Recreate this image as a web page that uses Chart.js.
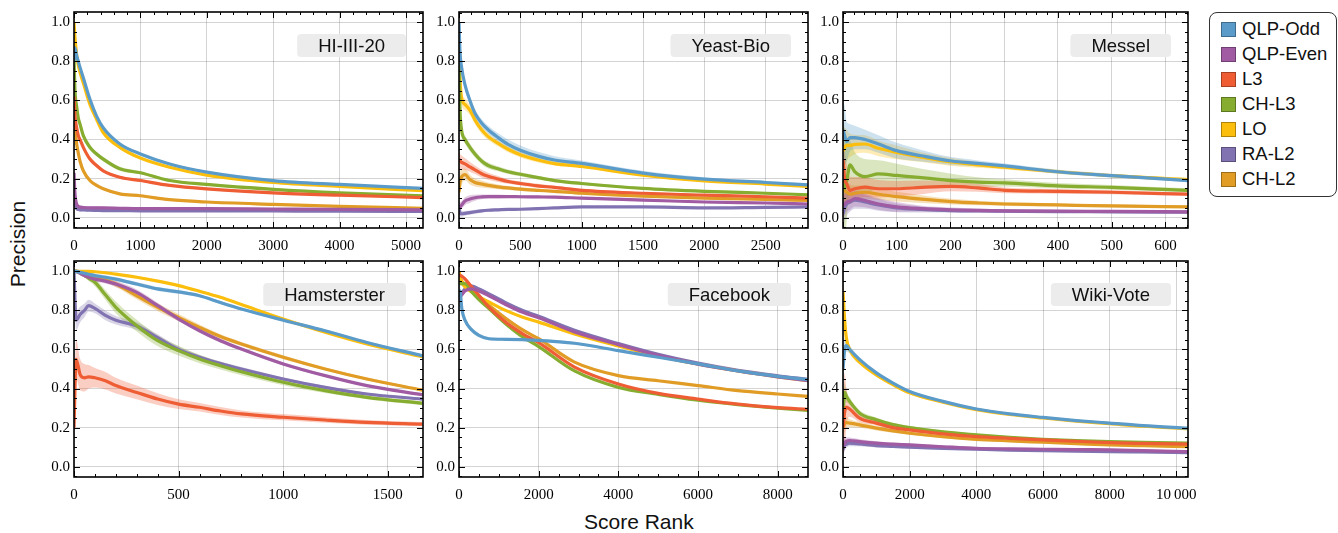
<!DOCTYPE html>
<html>
<head>
<meta charset="utf-8">
<script src="https://cdn.jsdelivr.net/npm/chart.js@4.4.0/dist/chart.umd.min.js"></script>
<style>
  body { margin: 0; background: #fff; width: 1338px; height: 533px; position: relative; overflow: hidden; font-family: "Liberation Sans", Arial, sans-serif; }
  canvas { position: absolute; }
  #legend { position: absolute; left: 1209px; top: 12px; width: 128px; height: 185px; border: 1px solid #333; border-radius: 8px; box-sizing: border-box; }
  .item { position: absolute; left: 11px; height: 25px; display: flex; align-items: center; font-size: 18.5px; color: #111; white-space: nowrap; }
  .swatch { width: 15px; height: 15px; box-sizing: border-box; border: 1px solid rgba(0,0,0,0.3); margin-right: 6px; }
  .title { position: absolute; font-size: 21px; color: #111; white-space: nowrap; }
</style>
</head>
<body>
<div id="legend"></div>
<div class="title" style="left:584px;top:510px;">Score Rank</div>
<div class="title" style="left:18px;top:244px;transform:translate(-50%,-50%) rotate(-90deg);">Precision</div>
<script>
const seriesNames = ['QLP-Odd', 'QLP-Even', 'L3', 'CH-L3', 'LO', 'RA-L2', 'CH-L2'];
const seriesColors = ['#5b9bc9', '#a05ba2', '#ee5d34', '#86ad2f', '#fbbe0d', '#8173b1', '#e19c26'];
const seriesFills = ['rgba(91,155,201,0.3)', 'rgba(160,91,162,0.3)', 'rgba(238,93,52,0.3)', 'rgba(134,173,47,0.3)', 'rgba(251,190,13,0.3)', 'rgba(129,115,177,0.3)', 'rgba(225,156,38,0.3)'];
const tickFont = '"Liberation Serif", "Times New Roman", serif';
Chart.defaults.font.family = tickFont;

// HI-III-20
const hiX = [0, 15, 40, 65, 90, 140, 240, 340, 440, 690, 1000, 1440, 2000, 3000, 4000, 5256];
const hiTicks = [0, 1000, 2000, 3000, 4000, 5000];
const hiY = [
  [0.80, 0.87, 0.83, 0.80, 0.77, 0.716, 0.606, 0.52, 0.46, 0.377, 0.326, 0.275, 0.233, 0.19, 0.17, 0.15],
  [0.23, 0.12, 0.07, 0.058, 0.054, 0.052, 0.05, 0.05, 0.05, 0.048, 0.046, 0.046, 0.046, 0.044, 0.042, 0.04],
  [0.62, 0.52, 0.46, 0.42, 0.40, 0.36, 0.30, 0.267, 0.24, 0.207, 0.19, 0.165, 0.147, 0.127, 0.115, 0.103],
  [0.82, 0.65, 0.57, 0.51, 0.48, 0.42, 0.36, 0.326, 0.30, 0.25, 0.23, 0.19, 0.17, 0.145, 0.127, 0.112],
  [1.0, 0.92, 0.835, 0.78, 0.745, 0.69, 0.58, 0.504, 0.436, 0.36, 0.305, 0.258, 0.218, 0.18, 0.16, 0.138],
  [0.12, 0.07, 0.046, 0.042, 0.04, 0.04, 0.038, 0.037, 0.036, 0.036, 0.035, 0.035, 0.035, 0.034, 0.033, 0.032],
  [0.55, 0.46, 0.377, 0.33, 0.29, 0.24, 0.19, 0.165, 0.148, 0.122, 0.112, 0.092, 0.08, 0.068, 0.058, 0.048]
];
const hiBand = [
  [0.05, 0.03, 0.02, 0.015, 0.012, 0.01, 0.01, 0.01, 0.008, 0.008, 0.006, 0.006, 0.005, 0.005, 0.004, 0.004],
  [0.06, 0.03, 0.015, 0.01, 0.01, 0.008, 0.008, 0.008, 0.006, 0.006, 0.005, 0.005, 0.004, 0.004, 0.004, 0.004],
  [0.06, 0.04, 0.03, 0.02, 0.015, 0.012, 0.01, 0.01, 0.008, 0.006, 0.006, 0.005, 0.005, 0.004, 0.004, 0.004],
  [0.06, 0.04, 0.03, 0.02, 0.02, 0.015, 0.015, 0.012, 0.012, 0.01, 0.008, 0.006, 0.005, 0.005, 0.004, 0.004],
  [0.03, 0.03, 0.02, 0.015, 0.015, 0.012, 0.012, 0.01, 0.01, 0.008, 0.006, 0.005, 0.005, 0.004, 0.004, 0.004],
  [0.04, 0.02, 0.01, 0.008, 0.008, 0.006, 0.006, 0.005, 0.005, 0.005, 0.004, 0.004, 0.004, 0.004, 0.004, 0.004],
  [0.06, 0.04, 0.03, 0.02, 0.015, 0.01, 0.01, 0.008, 0.008, 0.006, 0.006, 0.005, 0.005, 0.004, 0.004, 0.004]
];

// Yeast-Bio
const yeastX = [0, 8, 22, 49, 89, 130, 184, 238, 319, 400, 500, 643, 778, 1000, 1500, 2000, 2500, 2845];
const yeastTicks = [0, 500, 1000, 1500, 2000, 2500];
const yeastY = [
  [1.0, 0.85, 0.767, 0.68, 0.60, 0.535, 0.485, 0.45, 0.41, 0.375, 0.345, 0.315, 0.295, 0.278, 0.228, 0.197, 0.18, 0.168],
  [0.05, 0.055, 0.065, 0.085, 0.095, 0.102, 0.106, 0.108, 0.108, 0.108, 0.107, 0.106, 0.105, 0.1, 0.09, 0.08, 0.075, 0.07],
  [0.30, 0.29, 0.283, 0.275, 0.26, 0.245, 0.225, 0.212, 0.198, 0.185, 0.175, 0.163, 0.155, 0.14, 0.125, 0.115, 0.107, 0.1],
  [0.80, 0.56, 0.445, 0.40, 0.36, 0.326, 0.29, 0.267, 0.25, 0.235, 0.222, 0.205, 0.19, 0.175, 0.15, 0.135, 0.125, 0.117],
  [0.92, 0.72, 0.61, 0.58, 0.55, 0.50, 0.45, 0.415, 0.38, 0.35, 0.322, 0.295, 0.277, 0.262, 0.218, 0.188, 0.172, 0.16],
  [0.05, 0.025, 0.02, 0.022, 0.026, 0.03, 0.035, 0.038, 0.04, 0.042, 0.043, 0.046, 0.05, 0.055, 0.055, 0.05, 0.053, 0.055],
  [0.13, 0.18, 0.21, 0.22, 0.195, 0.18, 0.172, 0.165, 0.158, 0.152, 0.146, 0.14, 0.135, 0.125, 0.11, 0.1, 0.093, 0.088]
];
const yeastBand = [
  [0.04, 0.03, 0.03, 0.025, 0.02, 0.02, 0.02, 0.02, 0.022, 0.025, 0.025, 0.022, 0.02, 0.015, 0.012, 0.01, 0.008, 0.008],
  [0.03, 0.025, 0.02, 0.02, 0.02, 0.015, 0.012, 0.01, 0.01, 0.008, 0.008, 0.007, 0.006, 0.006, 0.005, 0.005, 0.005, 0.005],
  [0.06, 0.04, 0.035, 0.03, 0.025, 0.022, 0.02, 0.018, 0.015, 0.012, 0.01, 0.01, 0.008, 0.008, 0.006, 0.006, 0.005, 0.005],
  [0.05, 0.03, 0.025, 0.02, 0.02, 0.018, 0.016, 0.015, 0.013, 0.012, 0.01, 0.01, 0.008, 0.008, 0.006, 0.006, 0.005, 0.005],
  [0.05, 0.04, 0.035, 0.03, 0.025, 0.022, 0.02, 0.018, 0.016, 0.015, 0.014, 0.012, 0.01, 0.008, 0.007, 0.006, 0.005, 0.005],
  [0.03, 0.02, 0.015, 0.012, 0.01, 0.01, 0.008, 0.008, 0.007, 0.006, 0.006, 0.005, 0.005, 0.005, 0.005, 0.004, 0.004, 0.004],
  [0.06, 0.05, 0.04, 0.03, 0.025, 0.02, 0.018, 0.015, 0.012, 0.01, 0.01, 0.008, 0.008, 0.006, 0.006, 0.005, 0.005, 0.005]
];

// Messel
const messelX = [0, 3, 7, 13, 22, 41, 66, 100, 146, 202, 251, 301, 400, 500, 642];
const messelTicks = [0, 100, 200, 300, 400, 500, 600];
const messelY = [
  [0.45, 0.42, 0.39, 0.41, 0.41, 0.40, 0.377, 0.343, 0.317, 0.29, 0.278, 0.265, 0.235, 0.215, 0.19],
  [0.06, 0.07, 0.08, 0.085, 0.097, 0.088, 0.07, 0.055, 0.046, 0.04, 0.037, 0.035, 0.033, 0.032, 0.03],
  [0.30, 0.20, 0.173, 0.14, 0.148, 0.156, 0.148, 0.148, 0.155, 0.16, 0.152, 0.14, 0.135, 0.13, 0.12],
  [0.20, 0.15, 0.19, 0.27, 0.235, 0.21, 0.224, 0.216, 0.205, 0.19, 0.182, 0.178, 0.163, 0.155, 0.14],
  [0.34, 0.36, 0.37, 0.37, 0.375, 0.377, 0.355, 0.334, 0.31, 0.285, 0.27, 0.258, 0.235, 0.215, 0.195],
  [0.02, 0.05, 0.07, 0.08, 0.09, 0.08, 0.065, 0.05, 0.042, 0.036, 0.034, 0.033, 0.031, 0.03, 0.028],
  [0.15, 0.14, 0.13, 0.12, 0.125, 0.13, 0.12, 0.108, 0.095, 0.082, 0.075, 0.07, 0.065, 0.06, 0.055]
];
const messelBand = [
  [0.15, 0.15, 0.1, 0.07, 0.06, 0.05, 0.045, 0.04, 0.03, 0.02, 0.015, 0.012, 0.01, 0.01, 0.008],
  [0.06, 0.06, 0.05, 0.045, 0.04, 0.035, 0.03, 0.025, 0.015, 0.012, 0.01, 0.008, 0.008, 0.006, 0.006],
  [0.2, 0.15, 0.1, 0.07, 0.06, 0.05, 0.045, 0.04, 0.035, 0.025, 0.02, 0.015, 0.012, 0.01, 0.008],
  [0.4, 0.3, 0.2, 0.12, 0.1, 0.09, 0.07, 0.06, 0.045, 0.035, 0.025, 0.018, 0.014, 0.012, 0.01],
  [0.12, 0.1, 0.08, 0.06, 0.05, 0.045, 0.04, 0.035, 0.025, 0.02, 0.015, 0.012, 0.01, 0.008, 0.008],
  [0.08, 0.07, 0.06, 0.05, 0.045, 0.035, 0.03, 0.022, 0.015, 0.01, 0.008, 0.008, 0.006, 0.006, 0.005],
  [0.1, 0.08, 0.06, 0.05, 0.04, 0.035, 0.03, 0.025, 0.02, 0.015, 0.012, 0.01, 0.008, 0.008, 0.006]
];

// Hamsterster
const hamX = [0, 10, 30, 50, 70, 100, 150, 200, 300, 400, 500, 600, 700, 800, 1000, 1200, 1400, 1665];
const hamTicks = [0, 500, 1000, 1500];
const hamY = [
  [1.0, 1.0, 0.995, 0.99, 0.985, 0.978, 0.97, 0.96, 0.935, 0.91, 0.895, 0.875, 0.84, 0.807, 0.75, 0.696, 0.636, 0.568],
  [1.0, 1.0, 0.99, 0.978, 0.97, 0.96, 0.95, 0.935, 0.892, 0.824, 0.756, 0.696, 0.645, 0.602, 0.526, 0.466, 0.415, 0.368],
  [0.2, 0.55, 0.47, 0.455, 0.46, 0.455, 0.44, 0.415, 0.38, 0.346, 0.32, 0.304, 0.285, 0.27, 0.253, 0.239, 0.227, 0.218],
  [1.0, 1.0, 0.99, 0.98, 0.965, 0.944, 0.88, 0.816, 0.722, 0.645, 0.594, 0.551, 0.517, 0.486, 0.432, 0.389, 0.355, 0.324],
  [1.0, 1.0, 1.0, 1.0, 1.0, 0.998, 0.993, 0.986, 0.97, 0.95, 0.927, 0.898, 0.867, 0.83, 0.756, 0.688, 0.628, 0.563],
  [1.0, 0.75, 0.78, 0.80, 0.824, 0.81, 0.775, 0.75, 0.72, 0.66, 0.60, 0.56, 0.528, 0.5, 0.449, 0.406, 0.372, 0.346],
  [1.0, 1.0, 0.995, 0.986, 0.98, 0.97, 0.955, 0.935, 0.875, 0.816, 0.764, 0.713, 0.666, 0.628, 0.56, 0.5, 0.449, 0.392]
];
const hamBand = [
  [0.01, 0.01, 0.01, 0.01, 0.01, 0.01, 0.01, 0.01, 0.01, 0.01, 0.01, 0.008, 0.008, 0.008, 0.006, 0.006, 0.006, 0.006],
  [0.01, 0.01, 0.01, 0.01, 0.01, 0.012, 0.012, 0.015, 0.015, 0.015, 0.012, 0.01, 0.01, 0.008, 0.008, 0.006, 0.006, 0.006],
  [0.1, 0.1, 0.08, 0.07, 0.06, 0.05, 0.045, 0.04, 0.035, 0.03, 0.025, 0.022, 0.02, 0.018, 0.016, 0.014, 0.012, 0.01],
  [0.01, 0.01, 0.01, 0.012, 0.015, 0.02, 0.025, 0.03, 0.03, 0.028, 0.025, 0.022, 0.02, 0.018, 0.015, 0.012, 0.01, 0.01],
  [0.005, 0.005, 0.005, 0.005, 0.005, 0.005, 0.005, 0.006, 0.006, 0.006, 0.006, 0.006, 0.006, 0.006, 0.005, 0.005, 0.005, 0.005],
  [0.05, 0.05, 0.04, 0.035, 0.03, 0.025, 0.025, 0.022, 0.02, 0.018, 0.015, 0.012, 0.01, 0.01, 0.008, 0.008, 0.006, 0.006],
  [0.01, 0.01, 0.01, 0.01, 0.01, 0.01, 0.012, 0.015, 0.018, 0.02, 0.018, 0.015, 0.012, 0.01, 0.01, 0.008, 0.008, 0.006]
];

// Facebook
const fbX = [0, 25, 70, 150, 320, 500, 750, 1170, 1600, 2000, 2900, 4000, 5000, 6000, 7000, 8000, 8760];
const fbTicks = [0, 2000, 4000, 6000, 8000];
const fbY = [
  [0.87, 0.9, 0.81, 0.75, 0.70, 0.672, 0.655, 0.652, 0.65, 0.647, 0.632, 0.594, 0.56, 0.526, 0.49, 0.462, 0.445],
  [0.87, 0.87, 0.88, 0.9, 0.91, 0.9, 0.875, 0.83, 0.79, 0.762, 0.69, 0.625, 0.57, 0.525, 0.49, 0.46, 0.44],
  [0.98, 0.98, 0.975, 0.962, 0.92, 0.877, 0.817, 0.74, 0.68, 0.635, 0.51, 0.423, 0.375, 0.346, 0.32, 0.302, 0.294],
  [0.95, 0.94, 0.937, 0.937, 0.894, 0.855, 0.81, 0.732, 0.664, 0.615, 0.49, 0.406, 0.37, 0.34, 0.318, 0.3, 0.288],
  [1.0, 0.97, 0.945, 0.92, 0.895, 0.87, 0.843, 0.80, 0.765, 0.74, 0.68, 0.618, 0.565, 0.525, 0.49, 0.46, 0.44],
  [0.87, 0.88, 0.89, 0.91, 0.925, 0.91, 0.885, 0.84, 0.8, 0.77, 0.698, 0.63, 0.575, 0.53, 0.493, 0.465, 0.447],
  [1.0, 0.97, 0.95, 0.93, 0.9, 0.87, 0.826, 0.76, 0.70, 0.655, 0.535, 0.466, 0.44, 0.415, 0.389, 0.372, 0.36]
];
const fbBand = [
  [0.03, 0.03, 0.02, 0.015, 0.012, 0.01, 0.008, 0.008, 0.006, 0.006, 0.006, 0.005, 0.005, 0.005, 0.004, 0.004, 0.004],
  [0.02, 0.015, 0.012, 0.01, 0.008, 0.008, 0.006, 0.006, 0.005, 0.005, 0.005, 0.004, 0.004, 0.004, 0.004, 0.004, 0.004],
  [0.02, 0.015, 0.012, 0.01, 0.008, 0.008, 0.006, 0.006, 0.005, 0.005, 0.005, 0.004, 0.004, 0.004, 0.004, 0.004, 0.004],
  [0.02, 0.015, 0.012, 0.01, 0.008, 0.008, 0.006, 0.006, 0.005, 0.005, 0.005, 0.004, 0.004, 0.004, 0.004, 0.004, 0.004],
  [0.02, 0.015, 0.012, 0.01, 0.008, 0.008, 0.006, 0.006, 0.005, 0.005, 0.005, 0.004, 0.004, 0.004, 0.004, 0.004, 0.004],
  [0.02, 0.015, 0.012, 0.01, 0.008, 0.008, 0.006, 0.006, 0.005, 0.005, 0.005, 0.004, 0.004, 0.004, 0.004, 0.004, 0.004],
  [0.02, 0.015, 0.012, 0.01, 0.008, 0.008, 0.006, 0.006, 0.005, 0.005, 0.005, 0.004, 0.004, 0.004, 0.004, 0.004, 0.004]
];

// Wiki-Vote
const wikiX = [0, 50, 100, 200, 500, 1000, 1500, 2000, 3000, 4000, 5000, 6000, 7000, 8000, 9000, 10350];
const wikiTicks = [0, 2000, 4000, 6000, 8000, 10000];
const wikiY = [
  [0.5, 0.6, 0.62, 0.6, 0.548, 0.48, 0.428, 0.385, 0.334, 0.295, 0.27, 0.252, 0.236, 0.223, 0.21, 0.197],
  [0.1, 0.12, 0.13, 0.134, 0.128, 0.12, 0.115, 0.111, 0.102, 0.094, 0.091, 0.089, 0.087, 0.086, 0.082, 0.077],
  [0.2, 0.28, 0.305, 0.295, 0.248, 0.223, 0.2, 0.188, 0.168, 0.154, 0.145, 0.137, 0.13, 0.123, 0.119, 0.115],
  [0.25, 0.38, 0.36, 0.334, 0.274, 0.24, 0.215, 0.2, 0.178, 0.163, 0.15, 0.14, 0.133, 0.128, 0.124, 0.12],
  [0.9, 0.75, 0.66, 0.6, 0.535, 0.47, 0.42, 0.378, 0.33, 0.292, 0.267, 0.249, 0.233, 0.22, 0.207, 0.194],
  [0.09, 0.11, 0.115, 0.12, 0.116, 0.108, 0.104, 0.1, 0.094, 0.089, 0.085, 0.082, 0.08, 0.077, 0.075, 0.072],
  [0.2, 0.22, 0.225, 0.223, 0.214, 0.197, 0.183, 0.171, 0.153, 0.14, 0.132, 0.125, 0.118, 0.111, 0.107, 0.103]
];
const wikiBand = [
  [0.1, 0.06, 0.03, 0.02, 0.012, 0.01, 0.008, 0.008, 0.006, 0.006, 0.005, 0.005, 0.005, 0.005, 0.004, 0.004],
  [0.04, 0.03, 0.02, 0.015, 0.012, 0.01, 0.008, 0.008, 0.007, 0.007, 0.006, 0.006, 0.006, 0.006, 0.006, 0.006],
  [0.1, 0.2, 0.1, 0.04, 0.02, 0.012, 0.01, 0.008, 0.007, 0.006, 0.006, 0.005, 0.005, 0.005, 0.005, 0.005],
  [0.08, 0.05, 0.03, 0.02, 0.015, 0.012, 0.01, 0.008, 0.007, 0.006, 0.006, 0.005, 0.005, 0.005, 0.005, 0.005],
  [0.08, 0.06, 0.04, 0.02, 0.012, 0.01, 0.008, 0.008, 0.006, 0.006, 0.005, 0.005, 0.005, 0.005, 0.004, 0.004],
  [0.04, 0.03, 0.02, 0.015, 0.012, 0.01, 0.008, 0.008, 0.007, 0.007, 0.006, 0.006, 0.006, 0.006, 0.006, 0.006],
  [0.06, 0.04, 0.03, 0.02, 0.015, 0.012, 0.01, 0.008, 0.007, 0.006, 0.006, 0.005, 0.005, 0.005, 0.005, 0.005]
];

const panels = [
  { tag: 'HI-III-20', xs: hiX, ys: hiY, bands: hiBand, ticks: hiTicks, xMax: 5256, minor: 200, left: 74, top: 12, width: 349 },
  { tag: 'Yeast-Bio', xs: yeastX, ys: yeastY, bands: yeastBand, ticks: yeastTicks, xMax: 2845, minor: 100, left: 459, top: 12, width: 349 },
  { tag: 'Messel', xs: messelX, ys: messelY, bands: messelBand, ticks: messelTicks, xMax: 642, minor: 20, left: 843, top: 12, width: 345 },
  { tag: 'Hamsterster', xs: hamX, ys: hamY, bands: hamBand, ticks: hamTicks, xMax: 1668, minor: 100, left: 74, top: 261, width: 349 },
  { tag: 'Facebook', xs: fbX, ys: fbY, bands: fbBand, ticks: fbTicks, xMax: 8760, minor: 500, left: 459, top: 261, width: 349 },
  { tag: 'Wiki-Vote', xs: wikiX, ys: wikiY, bands: wikiBand, ticks: wikiTicks, xMax: 10350, minor: 500, left: 843, top: 261, width: 345 }
];
const plotHeight = 216;
const padL = 50, padT = 6, padR = 20, padB = 30;

function roundRect(ctx, x, y, w, h, r) {
  ctx.beginPath();
  ctx.moveTo(x + r, y);
  ctx.arcTo(x + w, y, x + w, y + h, r);
  ctx.arcTo(x + w, y + h, x, y + h, r);
  ctx.arcTo(x, y + h, x, y, r);
  ctx.arcTo(x, y, x + w, y, r);
  ctx.closePath();
}

const framePlugin = {
  id: 'frame',
  afterDraw(chart, args, opts) {
    const { ctx, chartArea: a, scales: { x, y } } = chart;
    ctx.save();
    ctx.strokeStyle = '#000';
    ctx.lineWidth = 1;
    ctx.beginPath();
    const n = Math.floor(x.max / opts.minor + 1e-9);
    for (let k = 0; k <= n; k++) {
      const v = k * opts.minor;
      const px = Math.round(x.getPixelForValue(v)) + 0.5;
      const len = (Math.abs(v / opts.major - Math.round(v / opts.major)) < 1e-9) ? 6 : 3;
      ctx.moveTo(px, a.bottom); ctx.lineTo(px, a.bottom - len);
      ctx.moveTo(px, a.top); ctx.lineTo(px, a.top + len);
    }
    for (let k = -1; k <= 21; k++) {
      const py = Math.round(y.getPixelForValue(k * 0.05)) + 0.5;
      const len = (k % 4 === 0 && k >= 0 && k <= 20) ? 6 : 3;
      ctx.moveTo(a.left, py); ctx.lineTo(a.left + len, py);
      ctx.moveTo(a.right, py); ctx.lineTo(a.right - len, py);
    }
    ctx.stroke();
    ctx.lineWidth = 1.6;
    ctx.strokeRect(a.left, a.top, a.right - a.left, a.bottom - a.top);

    ctx.font = '18.5px "Liberation Sans", Arial, sans-serif';
    const tw = ctx.measureText(opts.tag).width;
    const bw = tw + 42, bh = 23;
    const bx = a.right - 17 - bw, by = a.top + 22;
    ctx.fillStyle = '#ececec';
    roundRect(ctx, bx, by, bw, bh, 4);
    ctx.fill();
    ctx.fillStyle = '#111';
    ctx.textAlign = 'center';
    ctx.textBaseline = 'middle';
    ctx.fillText(opts.tag, bx + bw / 2, by + bh / 2 + 1);
    ctx.restore();
  }
};

panels.forEach(p => {
  const canvas = document.createElement('canvas');
  canvas.width = p.width + padL + padR;
  canvas.height = plotHeight + padT + padB;
  canvas.style.left = (p.left - padL) + 'px';
  canvas.style.top = (p.top - padT) + 'px';
  document.body.appendChild(canvas);

  const datasets = [];
  seriesNames.forEach((name, i) => {
    datasets.push({
      label: name,
      data: p.xs.map((x, j) => ({ x: x, y: p.ys[i][j] })),
      borderColor: seriesColors[i],
      borderWidth: 3.2,
      pointRadius: 0,
      fill: false,
      cubicInterpolationMode: 'monotone',
      order: i
    });
  });
  seriesNames.forEach((name, i) => {
    datasets.push({
      label: name + ' upper',
      data: p.xs.map((x, j) => ({ x: x, y: p.ys[i][j] + p.bands[i][j] })),
      borderWidth: 0,
      pointRadius: 0,
      fill: false,
      cubicInterpolationMode: 'monotone',
      order: 20 + i
    });
    datasets.push({
      label: name + ' lower',
      data: p.xs.map((x, j) => ({ x: x, y: p.ys[i][j] - p.bands[i][j] })),
      borderWidth: 0,
      pointRadius: 0,
      backgroundColor: seriesFills[i],
      fill: '-1',
      cubicInterpolationMode: 'monotone',
      order: 20 + i
    });
  });

  new Chart(canvas, {
    type: 'line',
    data: { datasets: datasets },
    options: {
      responsive: false,
      animation: false,
      events: [],
      layout: { padding: { left: 0, top: padT, right: padR, bottom: 0 } },
      plugins: {
        legend: { display: false },
        tooltip: { enabled: false },
        frame: { tag: p.tag, minor: p.minor, major: p.ticks[1] }
      },
      scales: {
        x: {
          type: 'linear',
          min: 0,
          max: p.xMax,
          border: { display: false },
          grid: { color: 'rgba(0,0,0,0.17)', lineWidth: 1, drawTicks: false },
          ticks: {
            padding: 9,
            maxRotation: 0,
            autoSkip: false,
            color: '#000',
            font: { family: tickFont, size: 15 },
            callback: v => v === 10000 ? '10\u2009000' : String(v)
          },
          afterBuildTicks: s => { s.ticks = p.ticks.map(v => ({ value: v })); },
          afterFit: s => { s.height = padB; s.paddingLeft = 0; s.paddingRight = 0; }
        },
        y: {
          min: -0.053,
          max: 1.053,
          border: { display: false },
          grid: { color: 'rgba(0,0,0,0.17)', lineWidth: 1, drawTicks: false },
          ticks: {
            padding: 4,
            color: '#000',
            font: { family: tickFont, size: 15 },
            callback: v => v.toFixed(1)
          },
          afterBuildTicks: s => { s.ticks = [0, 0.2, 0.4, 0.6, 0.8, 1.0].map(v => ({ value: v })); },
          afterFit: s => { s.width = padL; s.paddingTop = 0; s.paddingBottom = 0; }
        }
      }
    },
    plugins: [framePlugin]
  });
});

const legend = document.getElementById('legend');
seriesNames.forEach((name, i) => {
  const item = document.createElement('div');
  item.className = 'item';
  item.style.top = (3.5 + i * 25) + 'px';
  item.innerHTML = '<div class="swatch" style="background:' + seriesColors[i] + '"></div>' + name;
  legend.appendChild(item);
});
</script>
</body>
</html>
